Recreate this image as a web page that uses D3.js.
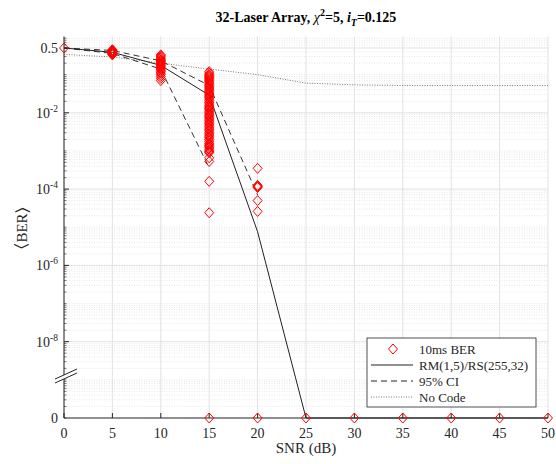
<!DOCTYPE html>
<meta charset="utf-8">
<style>
body { margin: 0; background: #fff; }
text { font-family: "Liberation Serif", "Times New Roman", serif; fill: #262626; }
</style>
<svg id="chart" width="556" height="464"></svg>
<script src="https://d3js.org/d3.v7.min.js"></script>
<script>

// data
var snr = [0, 5, 10, 15, 20, 25, 30, 35, 40, 45, 50];
var rmBer = [0.5, 0.385, 0.175, 0.029, 7.6e-6, 0, 0, 0, 0, 0, 0];
var ciSnrUp = [0, 5, 10, 15, 20];
var ciUpper = [0.5, 0.43, 0.23, 0.052, 7e-5];
var ciSnrLo = [0, 5, 10, 15];
var ciLower = [0.5, 0.36, 0.14, 3.6e-4];
var noCode = [0.34, 0.29, 0.2, 0.14, 0.1, 0.06, 0.054, 0.052, 0.052, 0.052, 0.052];

// 10ms BER samples, one list per SNR
var samples = [
  [0.5],
  [0.45, 0.44, 0.43, 0.42, 0.41, 0.4, 0.39, 0.38, 0.37, 0.36, 0.35, 0.34, 0.33],
  [0.33, 0.31, 0.29, 0.27, 0.25, 0.24, 0.23, 0.22, 0.21, 0.2, 0.19, 0.18, 0.17, 0.16, 0.15,
   0.14, 0.13, 0.12, 0.11, 0.1, 0.09, 0.08, 0.07],
  [0.12, 0.11, 0.1, 0.095, 0.09, 0.085, 0.08, 0.075, 0.07, 0.065, 0.06, 0.056, 0.052, 0.048,
   0.045, 0.042, 0.039, 0.036, 0.033, 0.031, 0.029, 0.027, 0.025, 0.023, 0.021, 0.019,
   0.018, 0.016, 0.015, 0.014, 0.013, 0.012, 0.011, 0.01, 0.0093, 0.0086, 0.008, 0.0074,
   0.0068, 0.0062, 0.0057, 0.0052, 0.0048, 0.0044, 0.004, 0.0037, 0.0034, 0.0031, 0.0028,
   0.0026, 0.0024, 0.0022, 0.002, 0.0018, 0.0016, 0.0015, 0.0014, 0.0013, 0.0012, 0.0011,
   0.001, 0.00095, 0.0009, 6.6e-4, 5.3e-4, 1.6e-4, 2.4e-5, 0],
  [3.5e-4, 1.25e-4, 1.2e-4, 1.15e-4, 1.1e-4, 5e-5, 2.6e-5, 0],
  [0], [0], [0], [0], [0], [0]
];

var yTicks = [1e-8, 1e-6, 1e-4, 1e-2, 0.5];
var xTicks = [0, 5, 10, 15, 20, 25, 30, 35, 40, 45, 50];
var floorVal = 1e-10;   // zero is drawn at the axis floor

var svg = d3.select("#chart");
var plotL = 64, plotR = 548, plotT = 36.5, plotB = 418;

var x = d3.scaleLinear().domain([0, 50]).range([plotL, plotR]);
var y = d3.scaleLog().domain([floorVal, 1]).range([plotB, plotT]);
var yv = function(v) { return y(v > 0 ? v : floorVal); };

// grid
var grid = svg.append("g");
var minor = [];
for (var k = -10; k < 0; k++) {
  for (var m = 1; m <= 9; m++) {
    var isMajor = (m == 1 && [-2, -4, -6, -8].indexOf(k) >= 0) || (k == -1 && m == 5);
    if (!isMajor) minor.push(m * Math.pow(10, k));
  }
}
grid.selectAll(".ymin").data(minor).enter().append("line")
  .attr("x1", plotL).attr("x2", plotR)
  .attr("y1", function(d) { return y(d); }).attr("y2", function(d) { return y(d); })
  .attr("stroke", "#d9d9d9").attr("stroke-width", 0.6).attr("stroke-dasharray", "1,1.5");
grid.selectAll(".ymaj").data(yTicks).enter().append("line")
  .attr("x1", plotL).attr("x2", plotR)
  .attr("y1", function(d) { return y(d); }).attr("y2", function(d) { return y(d); })
  .attr("stroke", "#e2e2e2").attr("stroke-width", 1);
grid.selectAll(".xmaj").data(xTicks).enter().append("line")
  .attr("y1", plotT).attr("y2", plotB)
  .attr("x1", function(d) { return x(d); }).attr("x2", function(d) { return x(d); })
  .attr("stroke", "#e2e2e2").attr("stroke-width", 1);

// axes lines and ticks
var ax = svg.append("g").attr("stroke", "#262626").attr("fill", "none");
ax.append("line").attr("x1", plotL).attr("x2", plotL).attr("y1", plotT).attr("y2", plotB);
ax.append("line").attr("x1", plotL).attr("x2", plotR).attr("y1", plotB).attr("y2", plotB);
ax.selectAll(".ytk").data(yTicks).enter().append("line")
  .attr("x1", plotL).attr("x2", plotL + 5)
  .attr("y1", function(d) { return y(d); }).attr("y2", function(d) { return y(d); });
ax.selectAll(".ymtk").data(minor).enter().append("line")
  .attr("x1", plotL).attr("x2", plotL + 2.5).attr("stroke-width", 0.6)
  .attr("y1", function(d) { return y(d); }).attr("y2", function(d) { return y(d); });
ax.selectAll(".xtk").data(xTicks).enter().append("line")
  .attr("y1", plotB).attr("y2", plotB - 5)
  .attr("x1", function(d) { return x(d); }).attr("x2", function(d) { return x(d); });

// tick labels
svg.selectAll(".xl").data(xTicks).enter().append("text")
  .attr("x", function(d) { return x(d); }).attr("y", plotB + 20)
  .attr("text-anchor", "middle").attr("font-size", 14).text(function(d) { return d; });

var yl = svg.selectAll(".yl").data(yTicks).enter().append("text")
  .attr("x", plotL - 6).attr("y", function(d) { return y(d) + 5; })
  .attr("text-anchor", "end").attr("font-size", 14);
yl.each(function(d) {
  var t = d3.select(this);
  if (d == 0.5) { t.text("0.5"); return; }
  t.append("tspan").text("10");
  t.append("tspan").attr("dy", -6).attr("font-size", 9.5).text(Math.round(Math.log10(d)));
});
svg.append("text").attr("x", plotL - 6).attr("y", plotB + 5)
  .attr("text-anchor", "end").attr("font-size", 14).text("0");

// axis break
var by = 375;
svg.append("polygon")
  .attr("points", [[55, by + 4], [77, by - 6], [77, by - 2], [55, by + 8]].join(" "))
  .attr("fill", "#fff");
svg.append("line").attr("x1", 55).attr("y1", by + 4).attr("x2", 77).attr("y2", by - 6)
  .attr("stroke", "#262626");
svg.append("line").attr("x1", 55).attr("y1", by + 8).attr("x2", 77).attr("y2", by - 2)
  .attr("stroke", "#262626");

// curves
var line = function(xs) {
  return d3.line().x(function(d, i) { return x(xs[i]); }).y(function(d) { return yv(d); });
};
svg.append("path").datum(noCode).attr("d", line(snr))
  .attr("fill", "none").attr("stroke", "#555").attr("stroke-width", 0.8).attr("stroke-dasharray", "1,1.5");
svg.append("path").datum(ciUpper).attr("d", line(ciSnrUp))
  .attr("fill", "none").attr("stroke", "#333").attr("stroke-width", 1).attr("stroke-dasharray", "6,4");
svg.append("path").datum(ciLower).attr("d", line(ciSnrLo))
  .attr("fill", "none").attr("stroke", "#333").attr("stroke-width", 1).attr("stroke-dasharray", "6,4");
svg.append("path").datum(rmBer).attr("d", line(snr))
  .attr("fill", "none").attr("stroke", "#222").attr("stroke-width", 1);

// markers
var diamond = function(cx, cy) {
  return "M" + cx + "," + (cy - 5) + "L" + (cx + 4.5) + "," + cy + "L" + cx + "," + (cy + 5) +
    "L" + (cx - 4.5) + "," + cy + "Z";
};
var pts = [];
samples.forEach(function(list, i) {
  list.forEach(function(v) { pts.push([snr[i], v]); });
});
svg.selectAll(".mk").data(pts).enter().append("path")
  .attr("d", function(d) { return diamond(x(d[0]), yv(d[1])); })
  .attr("fill", "none").attr("stroke", "#ff0000").attr("stroke-width", 1);

// title and labels
var title = svg.append("text").attr("x", (plotL + plotR) / 2).attr("y", 22)
  .attr("text-anchor", "middle").attr("font-size", 14).attr("font-weight", "bold").style("fill", "#000");
title.append("tspan").text("32-Laser Array, ");
title.append("tspan").attr("font-style", "italic").attr("font-weight", "normal").text("χ");
title.append("tspan").attr("dy", -6).attr("font-size", 10).text("2");
title.append("tspan").attr("dy", 6).text("=5, ");
title.append("tspan").attr("font-style", "italic").text("i");
title.append("tspan").attr("dy", 4).attr("font-size", 10).attr("font-style", "italic").text("T");
title.append("tspan").attr("dy", -4).text("=0.125");

svg.append("text").attr("x", (plotL + plotR) / 2).attr("y", 453)
  .attr("text-anchor", "middle").attr("font-size", 15).text("SNR (dB)");
var ylab = svg.append("text").attr("transform", "translate(27,228) rotate(-90)")
  .attr("text-anchor", "middle").attr("font-size", 15);
ylab.append("tspan").attr("font-family", "DejaVu Sans").attr("font-size", 17).attr("font-weight", 200).text("\u2329");
ylab.append("tspan").text("BER");
ylab.append("tspan").attr("font-family", "DejaVu Sans").attr("font-size", 17).attr("font-weight", 200).text("\u232A");

// legend
var lg = svg.append("g").attr("transform", "translate(367,338)");
lg.append("rect").attr("width", 169).attr("height", 69)
  .attr("fill", "#fff").attr("stroke", "#262626").attr("stroke-width", 0.8);
var entries = [
  { label: "10ms BER", kind: "marker" },
  { label: "RM(1,5)/RS(255,32)", kind: "solid" },
  { label: "95% CI", kind: "dash" },
  { label: "No Code", kind: "dot" }
];
entries.forEach(function(e, i) {
  var ey = 11 + i * 16;
  if (e.kind == "marker") {
    lg.append("path").attr("d", diamond(26, ey)).attr("fill", "none").attr("stroke", "#ff0000");
  } else {
    var l = lg.append("line").attr("x1", 4).attr("x2", 46).attr("y1", ey).attr("y2", ey)
      .attr("stroke", e.kind == "dot" ? "#555" : "#222").attr("stroke-width", e.kind == "dot" ? 0.8 : 1);
    if (e.kind == "dash") l.attr("stroke-dasharray", "6,4");
    if (e.kind == "dot") l.attr("stroke-dasharray", "1,1.5");
  }
  lg.append("text").attr("x", 52).attr("y", ey + 4.5).attr("font-size", 13).text(e.label);
});

</script>
